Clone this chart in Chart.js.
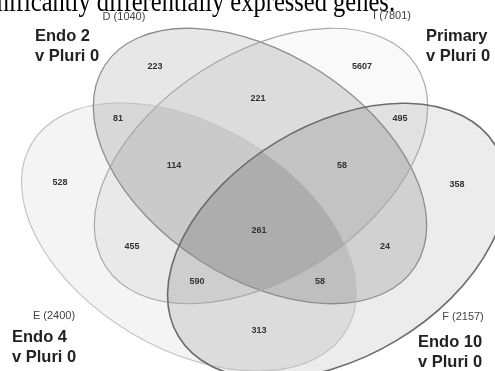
<!DOCTYPE html>
<html>
<head>
<meta charset="utf-8">
<script src="https://cdn.jsdelivr.net/npm/chart.js@4"></script>
<style>
  body { margin: 0; background: #fff; }
  #venn { display: block; }
</style>
</head>
<body>
<canvas id="venn" width="495" height="371"></canvas>
<script>
const captionText = 'significantly differentially expressed genes.';

// the four gene sets
const setLetters = ['D', 'I', 'E', 'F'];
const setTotals = [1040, 7801, 2400, 2157];
const setTitles = ['Endo 2', 'Primary', 'Endo 4', 'Endo 10'];
const setSubtitles = ['v Pluri 0', 'v Pluri 0', 'v Pluri 0', 'v Pluri 0'];

// gene counts of the 15 regions
const regionCounts = [528, 223, 5607, 358, 81, 221, 495, 114, 58, 261, 455, 24, 590, 58, 313];

// where each count sits (same units as the axes)
const regionX = [60, 155, 362, 457, 118, 258, 400, 174, 342, 259, 132, 385, 197, 320, 259];
const regionY = [183, 67, 67, 185, 119, 99, 119, 166, 166, 231, 247, 247, 282, 282, 331];

// ellipse shapes, drawn in this order (E, D, I, F)
const ellipses = [
    { cx: 189, cy: 237, rx: 183, ry: 112, rot: 30.6, fill: 'rgba(0,0,0,0.045)', stroke: '#c4c4c4', width: 1.2 },
    { cx: 260, cy: 166, rx: 185, ry: 112, rot: 33, fill: 'rgba(0,0,0,0.095)', stroke: '#8c8c8c', width: 1.3 },
    { cx: 261, cy: 166, rx: 185, ry: 112, rot: -33, fill: 'rgba(0,0,0,0.025)', stroke: '#a8a8a8', width: 1.2 },
    { cx: 337, cy: 241, rx: 185, ry: 116, rot: -31, fill: 'rgba(0,0,0,0.075)', stroke: '#6c6c6c', width: 1.6 }
];
const overlapShade = 'rgba(0,0,0,0.028)';

// set label placement: letter/total centre, then title block (left edge, first baseline)
const letterPos = [[124, 17], [392, 16], [54, 316], [463, 317]];
const titlePos = [[35, 41], [426, 41], [12, 342], [418, 347]];

const vennPlugin = {
    id: 'venn',
    beforeDatasetsDraw(chart) {
        const { ctx, scales: { x, y } } = chart;
        ctx.save();
        const paths = ellipses.map(e => {
            const px = x.getPixelForValue(e.cx);
            const py = y.getPixelForValue(e.cy);
            const rx = Math.abs(x.getPixelForValue(e.cx + e.rx) - px);
            const ry = Math.abs(y.getPixelForValue(e.cy + e.ry) - py);
            const p = new Path2D();
            p.ellipse(px, py, rx, ry, e.rot * Math.PI / 180, 0, Math.PI * 2);
            return p;
        });
        paths.forEach((p, i) => {
            ctx.fillStyle = ellipses[i].fill;
            ctx.fill(p);
        });
        // overlaps get a little darker each time two sets meet
        for (let i = 0; i < paths.length; i++) {
            for (let j = i + 1; j < paths.length; j++) {
                ctx.save();
                ctx.clip(paths[i]);
                ctx.fillStyle = overlapShade;
                ctx.fill(paths[j]);
                ctx.restore();
            }
        }
        paths.forEach((p, i) => {
            ctx.strokeStyle = ellipses[i].stroke;
            ctx.lineWidth = ellipses[i].width;
            ctx.stroke(p);
        });
        ctx.restore();
    },
    afterDatasetsDraw(chart) {
        const { ctx, scales: { x, y } } = chart;
        ctx.save();

        // region counts
        const meta = chart.getDatasetMeta(0);
        ctx.font = 'bold 9px "Liberation Sans"';
        ctx.fillStyle = '#333';
        ctx.textAlign = 'center';
        ctx.textBaseline = 'middle';
        meta.data.forEach((pt, i) => {
            ctx.fillText(String(regionCounts[i]), pt.x, pt.y);
        });

        // set letters with totals
        ctx.font = '11px "Liberation Sans"';
        ctx.fillStyle = '#444';
        setLetters.forEach((s, i) => {
            ctx.fillText(s + ' (' + setTotals[i] + ')', x.getPixelForValue(letterPos[i][0]), y.getPixelForValue(letterPos[i][1]));
        });

        // set titles
        ctx.font = 'bold 16.5px "Liberation Sans"';
        ctx.fillStyle = '#222';
        ctx.textAlign = 'left';
        ctx.textBaseline = 'alphabetic';
        setTitles.forEach((t, i) => {
            const tx = x.getPixelForValue(titlePos[i][0]);
            ctx.fillText(t, tx, y.getPixelForValue(titlePos[i][1]));
            ctx.fillText(setSubtitles[i], tx, y.getPixelForValue(titlePos[i][1] + 20));
        });

        // cut-off caption line at the very top (stretched a bit, like the scan)
        ctx.font = '24.5px "Liberation Serif"';
        ctx.fillStyle = '#000';
        ctx.textAlign = 'right';
        ctx.translate(x.getPixelForValue(395), y.getPixelForValue(10.5));
        ctx.scale(1, 1.2);
        ctx.fillText(captionText, 0, 0);
        ctx.restore();
    }
};

const points = regionCounts.map((c, i) => ({ x: regionX[i], y: regionY[i] }));

new Chart(document.getElementById('venn'), {
    type: 'scatter',
    data: {
        datasets: [{
            data: points,
            pointRadius: 0,
            pointHoverRadius: 0
        }]
    },
    options: {
        responsive: false,
        animation: false,
        events: [],
        layout: { padding: 0 },
        plugins: {
            legend: { display: false },
            tooltip: { enabled: false }
        },
        scales: {
            x: { type: 'linear', min: 0, max: 495, display: false },
            y: { type: 'linear', min: 0, max: 371, reverse: true, display: false }
        }
    },
    plugins: [vennPlugin]
});
</script>
</body>
</html>
